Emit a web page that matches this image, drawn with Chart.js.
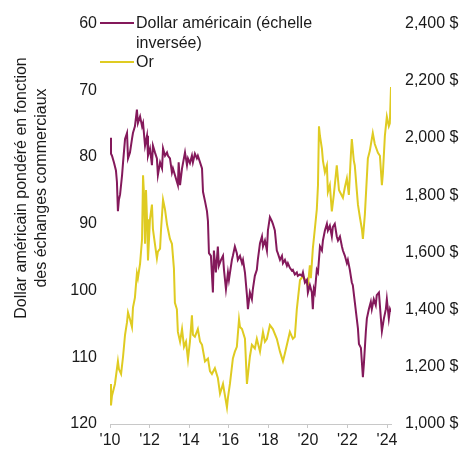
<!DOCTYPE html>
<html>
<head>
<meta charset="utf-8">
<script src="https://cdn.jsdelivr.net/npm/chart.js@4.4.1/dist/chart.umd.min.js"></script>
<style>
html, body { margin: 0; padding: 0; background: #fff; }
#wrap { width: 465px; height: 451px; }
</style>
</head>
<body>
<div id="wrap"><canvas id="chart"></canvas></div>
<script>
// dollar index (left axis, inverted) - dates as decimal years
var dollarDates = [2010.00,2010.05,2010.10,2010.20,2010.30,2010.35,2010.40,2010.45,2010.51,2010.61,2010.66,2010.76,2010.86,2010.91,
  2011.01,2011.11,2011.16,2011.26,2011.36,2011.41,2011.52,2011.62,2011.67,2011.77,2011.87,2011.92,
  2012.02,2012.12,2012.17,2012.27,2012.37,2012.42,2012.53,2012.63,2012.68,2012.78,2012.88,2012.93,
  2013.03,2013.13,2013.18,2013.28,2013.38,2013.43,2013.47,2013.54,2013.64,2013.79,2013.89,2013.94,
  2014.04,2014.14,2014.19,2014.29,2014.39,2014.44,2014.55,2014.65,2014.70,2014.80,2014.90,2014.95,
  2015.00,2015.10,2015.20,2015.25,2015.35,2015.45,2015.50,2015.61,2015.71,2015.76,2015.86,2015.96,
  2016.01,2016.16,2016.21,2016.31,2016.41,2016.46,2016.57,2016.67,2016.72,2016.82,2016.92,2016.97,
  2017.07,2017.17,2017.22,2017.32,2017.42,2017.47,2017.58,2017.68,2017.73,2017.83,2017.93,2017.98,
  2018.08,2018.18,2018.23,2018.33,2018.43,2018.48,2018.59,2018.69,2018.74,2018.84,2018.94,2018.99,
  2019.09,2019.19,2019.24,2019.34,2019.44,2019.49,2019.60,2019.70,2019.75,2019.85,2019.95,
  2020.00,2020.10,2020.20,2020.25,2020.30,2020.35,2020.45,2020.51,2020.61,2020.71,2020.76,2020.86,2020.96,
  2021.01,2021.11,2021.21,2021.26,2021.36,2021.46,2021.52,2021.62,2021.72,2021.77,2021.87,2021.97,
  2022.02,2022.12,2022.22,2022.27,2022.37,2022.47,2022.53,2022.58,2022.68,2022.78,2022.83,2022.93,2022.98,
  2023.08,2023.18,2023.23,2023.33,2023.43,2023.48,2023.59,2023.69,2023.74,2023.84,2023.94,2023.99,
  2024.09,2024.15,2024.20];
var dollarValues = [77.1,79.5,79.8,80.8,82.0,83.7,88.1,86.4,85.6,82.7,80.8,77.3,76.4,80.2,
  79.3,77.3,76.4,75.4,72.9,74.9,73.9,75.4,74.9,78.3,76.8,79.8,
  78.7,81.2,78.3,79.3,80.2,82.7,80.8,81.7,78.7,79.8,79.3,79.8,
  80.2,82.3,81.7,82.7,83.7,84.2,80.8,84.2,81.7,79.3,81.2,80.2,
  80.9,79.8,80.8,79.5,80.2,79.8,80.8,81.7,85.2,86.6,88.1,89.6,
  94.4,94.8,100.3,94.0,97.3,93.4,96.3,95.4,94.8,96.9,99.8,97.3,
  98.4,95.4,94.8,93.4,94.4,95.4,94.8,95.9,95.4,97.3,100.7,102.8,
  100.3,101.3,99.8,97.8,96.9,95.4,92.9,91.9,93.4,92.5,94.0,91.0,
  89.0,89.6,90.0,91.0,94.0,94.4,95.4,94.8,95.9,95.4,96.3,95.9,
  96.6,97.0,96.9,97.6,97.3,97.8,97.6,97.8,97.3,98.8,98.4,
  100.3,99.2,100.3,102.8,99.8,100.3,96.9,97.3,93.4,94.0,92.5,91.0,90.0,
  91.0,90.3,91.9,90.5,90.0,91.9,92.5,91.9,93.4,94.0,94.8,95.9,
  95.4,96.9,98.8,99.2,101.7,104.2,105.7,108.0,108.6,113.0,111.0,106.1,104.2,
  102.8,101.7,102.8,101.3,102.2,100.7,100.3,104.2,106.1,104.2,102.8,101.3,
  104.2,102.8,103.2];

// gold price in USD (right axis)
var goldDates = [2010.00,2010.05,2010.10,2010.25,2010.40,2010.45,2010.56,2010.66,2010.76,2010.86,2010.91,
  2011.01,2011.11,2011.16,2011.26,2011.36,2011.41,2011.52,2011.62,2011.67,2011.72,2011.77,2011.82,2011.87,2011.92,
  2012.02,2012.12,2012.17,2012.27,2012.37,2012.42,2012.53,2012.58,2012.68,2012.78,2012.88,2012.93,
  2013.03,2013.13,2013.23,2013.28,2013.38,2013.43,2013.54,2013.64,2013.74,2013.84,2013.94,
  2014.04,2014.14,2014.19,2014.29,2014.44,2014.55,2014.65,2014.80,2014.95,
  2015.05,2015.15,2015.30,2015.45,2015.56,2015.71,2015.81,2015.91,2015.96,
  2016.06,2016.21,2016.31,2016.41,2016.52,2016.57,2016.67,2016.82,2016.92,
  2017.07,2017.17,2017.32,2017.42,2017.58,2017.73,2017.83,2017.93,
  2018.08,2018.23,2018.43,2018.59,2018.74,2018.84,2018.94,
  2019.09,2019.24,2019.34,2019.44,2019.60,2019.75,2019.95,
  2020.00,2020.10,2020.15,2020.25,2020.35,2020.45,2020.51,2020.56,2020.61,2020.71,2020.76,2020.86,2020.96,
  2021.01,2021.11,2021.21,2021.31,2021.46,2021.57,2021.62,2021.77,2021.87,2021.97,
  2022.07,2022.17,2022.22,2022.32,2022.37,2022.47,2022.53,2022.63,2022.73,2022.78,2022.88,
  2023.03,2023.13,2023.28,2023.38,2023.54,2023.64,2023.74,2023.79,2023.89,2023.99,
  2024.09,2024.14,2024.20];
var goldValues = [1140,1065,1099,1140,1219,1192,1175,1236,1312,1356,1390,
  1366,1339,1407,1442,1527,1510,1561,1647,1870,1801,1630,1818,1716,1572,
  1716,1767,1681,1630,1579,1603,1613,1681,1784,1750,1698,1681,
  1647,1630,1544,1424,1401,1322,1288,1332,1270,1288,1226,
  1288,1380,1312,1305,1332,1288,1277,1219,1229,
  1185,1175,1195,1161,1106,1140,1099,1058,1092,
  1140,1229,1253,1270,1366,1339,1332,1298,1140,
  1236,1277,1264,1298,1253,1322,1288,1298,
  1346,1332,1298,1253,1219,1247,1277,
  1322,1298,1305,1401,1503,1517,1493,
  1483,1555,1510,1613,1681,1750,1835,2041,2007,1962,1921,1880,1904,
  1811,1835,1743,1801,1904,1818,1811,1791,1828,1859,
  1801,1938,1996,1921,1904,1818,1767,1722,1681,1647,1733,
  1928,1955,2017,1979,1948,1938,1835,1876,2007,2075,
  2041,2051,2178];

var xTicks = [2010, 2012, 2014, 2016, 2018, 2020, 2022, 2024];
var leftTicks = [60, 70, 80, 90, 100, 110, 120];
var rightTicks = [1000, 1200, 1400, 1600, 1800, 2000, 2200, 2400];
var legendLines = [["Dollar américain (échelle", "inversée)"], ["Or"]];
var leftTitle = ["Dollar américain pondéré en fonction", "des échanges commerciaux"];

var purple = "#84195B";
var gold = "#DFCB22";
var FONT = "'Liberation Sans', Arial, sans-serif";

function toPoints(xs, ys) {
    var pts = [];
    for (var i = 0; i < xs.length; i++) pts.push({x: xs[i], y: ys[i]});
    return pts;
}

// legend drawn inside the plot, top left
var legendPlugin = {
    id: "insideLegend",
    afterDraw: function(chart) {
        var ctx = chart.ctx;
        var rows = [23, 62];
        ctx.save();
        ctx.font = "16px " + FONT;
        ctx.textBaseline = "middle";
        ctx.fillStyle = "#1a1a1a";
        chart.data.datasets.forEach(function(ds, i) {
            var y = rows[i];
            ctx.strokeStyle = ds.borderColor;
            ctx.lineWidth = 2;
            ctx.beginPath();
            ctx.moveTo(100, y);
            ctx.lineTo(134, y);
            ctx.stroke();
            legendLines[i].forEach(function(t, j) {
                ctx.fillText(t, 136, y + 1 + j * 19.5);
            });
        });
        ctx.restore();
    }
};

// rotated left axis title
var titlePlugin = {
    id: "leftTitle",
    afterDraw: function(chart) {
        var ctx = chart.ctx;
        ctx.save();
        ctx.font = "16px " + FONT;
        ctx.fillStyle = "#1a1a1a";
        ctx.textAlign = "center";
        ctx.textBaseline = "middle";
        var xs = [22, 42];
        leftTitle.forEach(function(t, i) {
            ctx.save();
            ctx.translate(xs[i], 188);
            ctx.rotate(-Math.PI / 2);
            ctx.fillText(t, 0, 0);
            ctx.restore();
        });
        ctx.restore();
    }
};

var ctx = document.getElementById("chart");
new Chart(ctx, {
    type: "line",
    data: {
        datasets: [{
            label: "Dollar américain (échelle inversée)",
            data: toPoints(dollarDates, dollarValues),
            borderColor: purple,
            backgroundColor: purple,
            borderWidth: 2,
            pointRadius: 0,
            tension: 0,
            yAxisID: "yLeft"
        }, {
            label: "Or",
            data: toPoints(goldDates, goldValues),
            borderColor: gold,
            backgroundColor: gold,
            borderWidth: 2,
            pointRadius: 0,
            tension: 0,
            yAxisID: "yRight"
        }]
    },
    options: {
        responsive: true,
        maintainAspectRatio: false,
        animation: false,
        layout: { padding: { top: 15, left: 0, right: 0, bottom: 0 } },
        plugins: {
            legend: { display: false },
            tooltip: { enabled: false }
        },
        scales: {
            x: {
                type: "linear",
                min: 2010,
                max: 2024.2,
                afterBuildTicks: function(scale) {
                    scale.ticks = xTicks.map(function(v) { return {value: v}; });
                },
                afterFit: function(scale) { scale.height = 27; },
                grid: { drawOnChartArea: false, tickLength: 4, color: "#c8c8c8" },
                border: { display: true, color: "#c8c8c8" },
                ticks: {
                    padding: 3,
                    maxRotation: 0,
                    autoSkip: false,
                    color: "#1a1a1a",
                    font: { family: FONT, size: 16 },
                    callback: function(v) { return "'" + String(v).slice(2); }
                }
            },
            yLeft: {
                position: "left",
                reverse: true,
                min: 60,
                max: 120,
                afterBuildTicks: function(scale) {
                    scale.ticks = leftTicks.map(function(v) { return {value: v}; });
                },
                afterFit: function(scale) { scale.width = 110; },
                grid: { display: false, drawTicks: false },
                border: { display: false },
                ticks: {
                    padding: 13,
                    color: "#1a1a1a",
                    font: { family: FONT, size: 16 }
                }
            },
            yRight: {
                position: "right",
                min: 1000,
                max: 2400,
                afterBuildTicks: function(scale) {
                    scale.ticks = rightTicks.map(function(v) { return {value: v}; });
                },
                afterFit: function(scale) { scale.width = 74; },
                grid: { display: false, drawTicks: false },
                border: { display: false },
                ticks: {
                    padding: 14,
                    color: "#1a1a1a",
                    font: { family: FONT, size: 16 },
                    callback: function(v) {
                        return String(v).replace(/\B(?=(\d{3})+(?!\d))/g, ",") + " $";
                    }
                }
            }
        }
    },
    plugins: [legendPlugin, titlePlugin]
});
</script>
</body>
</html>
